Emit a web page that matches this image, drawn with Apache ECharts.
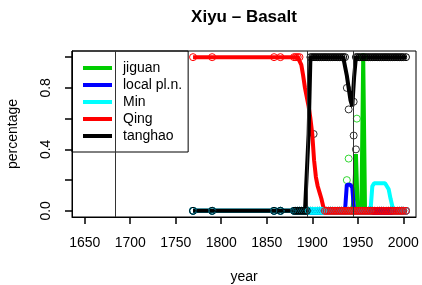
<!DOCTYPE html>
<html>
<head>
<meta charset="utf-8">
<script src="https://cdn.jsdelivr.net/npm/echarts@6/dist/echarts.min.js"></script>
<style>
  html, body { margin: 0; padding: 0; background: #fff; }
  #chart { width: 422px; height: 285px; }
</style>
</head>
<body>
<div id="chart"></div>
<script>
var years = [1769, 1790, 1858, 1865, 1880, 1882, 1884, 1886, 1888, 1890,
             1892, 1894, 1896, 1898, 1900, 1902, 1904, 1906, 1908, 1910,
             1912, 1914, 1916, 1918, 1920, 1922, 1924, 1926, 1928, 1930,
             1932, 1934, 1936, 1938, 1940, 1942, 1944, 1946, 1948, 1950,
             1952, 1954, 1956, 1958, 1960, 1962, 1964, 1966, 1968, 1970,
             1972, 1974, 1976, 1978, 1980, 1982, 1984, 1986, 1988, 1990,
             1992, 1994, 1996, 1998, 2000, 2003];

var jiguan = [0, 0, 0, 0, 0, 0, 0, 0, 0, 0,
              0, 0, 0, 0, 0, 0, 0, 0, 0, 0,
              0, 0, 0, 0, 0, 0, 0, 0, 0, 0,
              0, 0, 0, 0, 0, 0, 0, 0.12, 0.37, 0,
              0, 0, 1, 0, 0, 0, 0, 0, 0, 0,
              0, 0, 0, 0, 0, 0, 0, 0, 0, 0,
              0, 0, 0, 0, 0, 0];

var localPln = [0, 0, 0, 0, 0, 0, 0, 0, 0, 0,
                0, 0, 0, 0, 0, 0, 0, 0, 0, 0,
                0, 0, 0, 0, 0, 0, 0, 0, 0, 0,
                0, 0, 0, 0.17, 0.17, 0.17, 0.15, 0, 0, 0,
                0, 0, 0, 0, 0, 0, 0, 0, 0, 0,
                0, 0, 0, 0, 0, 0, 0, 0, 0, 0,
                0, 0, 0, 0, 0, 0];

var min = [0, 0, 0, 0, 0, 0, 0, 0, 0, 0,
           0, 0, 0, 0, 0, 0, 0, 0, 0, 0,
           0, 0, 0, 0, 0, 0, 0, 0, 0, 0,
           0, 0, 0, 0, 0, 0, 0, 0, 0, 0,
           0, 0, 0, 0, 0, 0, 0, 0.16, 0.18, 0.18,
           0.18, 0.18, 0.18, 0.18, 0.18, 0.16, 0.14, 0.08, 0.03, 0,
           0, 0, 0, 0, 0, 0];

var qing = [1, 1, 1, 1, 1, 1, 1, 1, 0.95, 0.88,
            0.8, 0.74, 0.68, 0.6, 0.5, 0.33, 0.22, 0.16, 0.12, 0.08,
            0.03, 0, 0, 0, 0, 0, 0, 0, 0, 0,
            0, 0, 0, 0, 0, 0, 0, 0, 0, 0,
            0, 0, 0, 0, 0, 0, 0, 0, 0, 0,
            0, 0, 0, 0, 0, 0, 0, 0, 0, 0,
            0, 0, 0, 0, 0, 0];

var tanghao = [0, 0, 0, 0, 0, 0, 0, 0, 0, 0,
               0, 0, 0.5, 1, 1, 1, 1, 1, 1, 1,
               1, 1, 1, 1, 1, 1, 1, 1, 1, 1,
               1, 1, 1, 0.88, 0.8, 0.72, 0.68, 0.87, 1, 1,
               1, 1, 1, 1, 1, 1, 1, 1, 1, 1,
               1, 1, 1, 1, 1, 1, 1, 1, 1, 1,
               1, 1, 1, 1, 1, 1];

// loose circles that sit off the lines
var jiguanPts = [[1938, 0.2], [1940, 0.34], [1949, 0.6]];
var tanghaoPts = [[1901.5, 0.5], [1938, 0.8], [1940, 0.66], [1945.5, 0.71], [1945.5, 0.49],
                  [1948, 0.4], [1943, 0], [1956, 0], [1965, 0], [1968, 0], [1999, 0]];

var periods = [1683, 1895, 1945];

var names = ['jiguan', 'local pl.n.', 'Min', 'Qing', 'tanghao'];
var colors = ['#00cd00', '#0000ff', '#00ffff', '#ff0000', '#000000'];
var values = [jiguan, localPln, min, qing, tanghao];

var xTicks = [1650, 1700, 1750, 1800, 1850, 1900, 1950, 2000];
var yTicks = [0, 0.2, 0.4, 0.6, 0.8, 1];
var yLabels = [0, 0.4, 0.8];

var font = 'Liberation Sans, Arial, Helvetica, sans-serif';

// circles only where the share is flat at 0 or 1
function pairs(vals) {
    var out = [];
    for (var i = 0; i < years.length; i++) {
        var flat = (vals[i] === 0 || vals[i] === 1);
        out.push({ value: [years[i], vals[i]], symbolSize: flat ? 7 : 0 });
    }
    return out;
}

var series = [];
for (var i = 0; i < names.length; i++) {
    series.push({
        name: names[i],
        type: 'line',
        data: pairs(values[i]),
        showSymbol: true,
        showAllSymbol: true,
        symbol: 'circle',
        lineStyle: { color: colors[i], width: 4 },
        itemStyle: { color: 'rgba(0,0,0,0)', borderColor: colors[i], borderWidth: 1 },
        emphasis: { disabled: true }
    });
}

series.push({
    name: 'jiguan pts',
    type: 'scatter',
    data: jiguanPts,
    symbol: 'circle',
    symbolSize: 7,
    itemStyle: { color: 'rgba(0,0,0,0)', borderColor: colors[0], borderWidth: 1 }
});
series.push({
    name: 'tanghao pts',
    type: 'scatter',
    data: tanghaoPts,
    symbol: 'circle',
    symbolSize: 7,
    itemStyle: { color: 'rgba(0,0,0,0)', borderColor: colors[4], borderWidth: 1 },
    markLine: {
        silent: true,
        symbol: 'none',
        label: { show: false },
        lineStyle: { color: '#333', width: 1, type: 'solid' },
        data: periods.map(function (p) { return { xAxis: p }; })
    }
});

var myChart = echarts.init(document.getElementById('chart'));

var option = {
    animation: false,
    backgroundColor: '#fff',
    textStyle: { fontFamily: font },
    title: {
        text: 'Xiyu \u2013 Basalt',
        left: 244,
        textAlign: 'center',
        top: 9,
        padding: 0,
        textStyle: { fontFamily: font, fontSize: 17, fontWeight: 'bold', color: '#000' }
    },
    legend: {
        data: names.map(function (n, i) {
            return { name: n, icon: 'rect', itemStyle: { color: colors[i], borderWidth: 0 } };
        }),
        orient: 'vertical',
        left: 72,
        top: 51,
        padding: [10, 6, 9, 11],
        itemWidth: 29,
        itemHeight: 4,
        itemGap: 3,
        itemStyle: { borderWidth: 0 },
        lineStyle: { width: 0 },
        borderColor: '#000',
        borderWidth: 1,
        selectedMode: false,
        textStyle: { fontFamily: font, fontSize: 14, color: '#000', lineHeight: 14, padding: [0, 0, 0, 6] }
    },
    grid: {
        left: 72,
        right: 6,
        top: 51,
        bottom: 68,
        outerBoundsMode: 'none',
        containLabel: false,
        show: true,
        borderColor: '#000',
        borderWidth: 1
    },
    xAxis: {
        type: 'value',
        min: 1636,
        max: 2014,
        name: 'year',
        nameLocation: 'middle',
        nameGap: 53,
        nameTextStyle: { fontFamily: font, fontSize: 14, color: '#000' },
        axisLine: { show: true, onZero: false, lineStyle: { color: '#000', width: 1 } },
        axisTick: { show: true, inside: false, length: 7, lineStyle: { color: '#000', width: 1.5 }, customValues: xTicks },
        axisLabel: {
            color: '#000',
            fontSize: 14,
            margin: 19,
            customValues: xTicks,
            formatter: function (v) { return String(v); }
        },
        splitLine: { show: false }
    },
    yAxis: {
        type: 'value',
        min: -0.04,
        max: 1.04,
        name: 'percentage',
        nameLocation: 'middle',
        nameGap: 52,
        nameTextStyle: { fontFamily: font, fontSize: 14, color: '#000' },
        axisLine: { show: true, onZero: false, lineStyle: { color: '#000', width: 1 } },
        axisTick: { show: true, inside: false, length: 7, lineStyle: { color: '#000', width: 1.5 }, customValues: yTicks },
        axisLabel: {
            color: '#000',
            fontSize: 14,
            rotate: 90,
            margin: 19,
            customValues: yLabels,
            formatter: function (v) { return v.toFixed(1); }
        },
        splitLine: { show: false }
    },
    series: series
};

myChart.setOption(option);
</script>
</body>
</html>
